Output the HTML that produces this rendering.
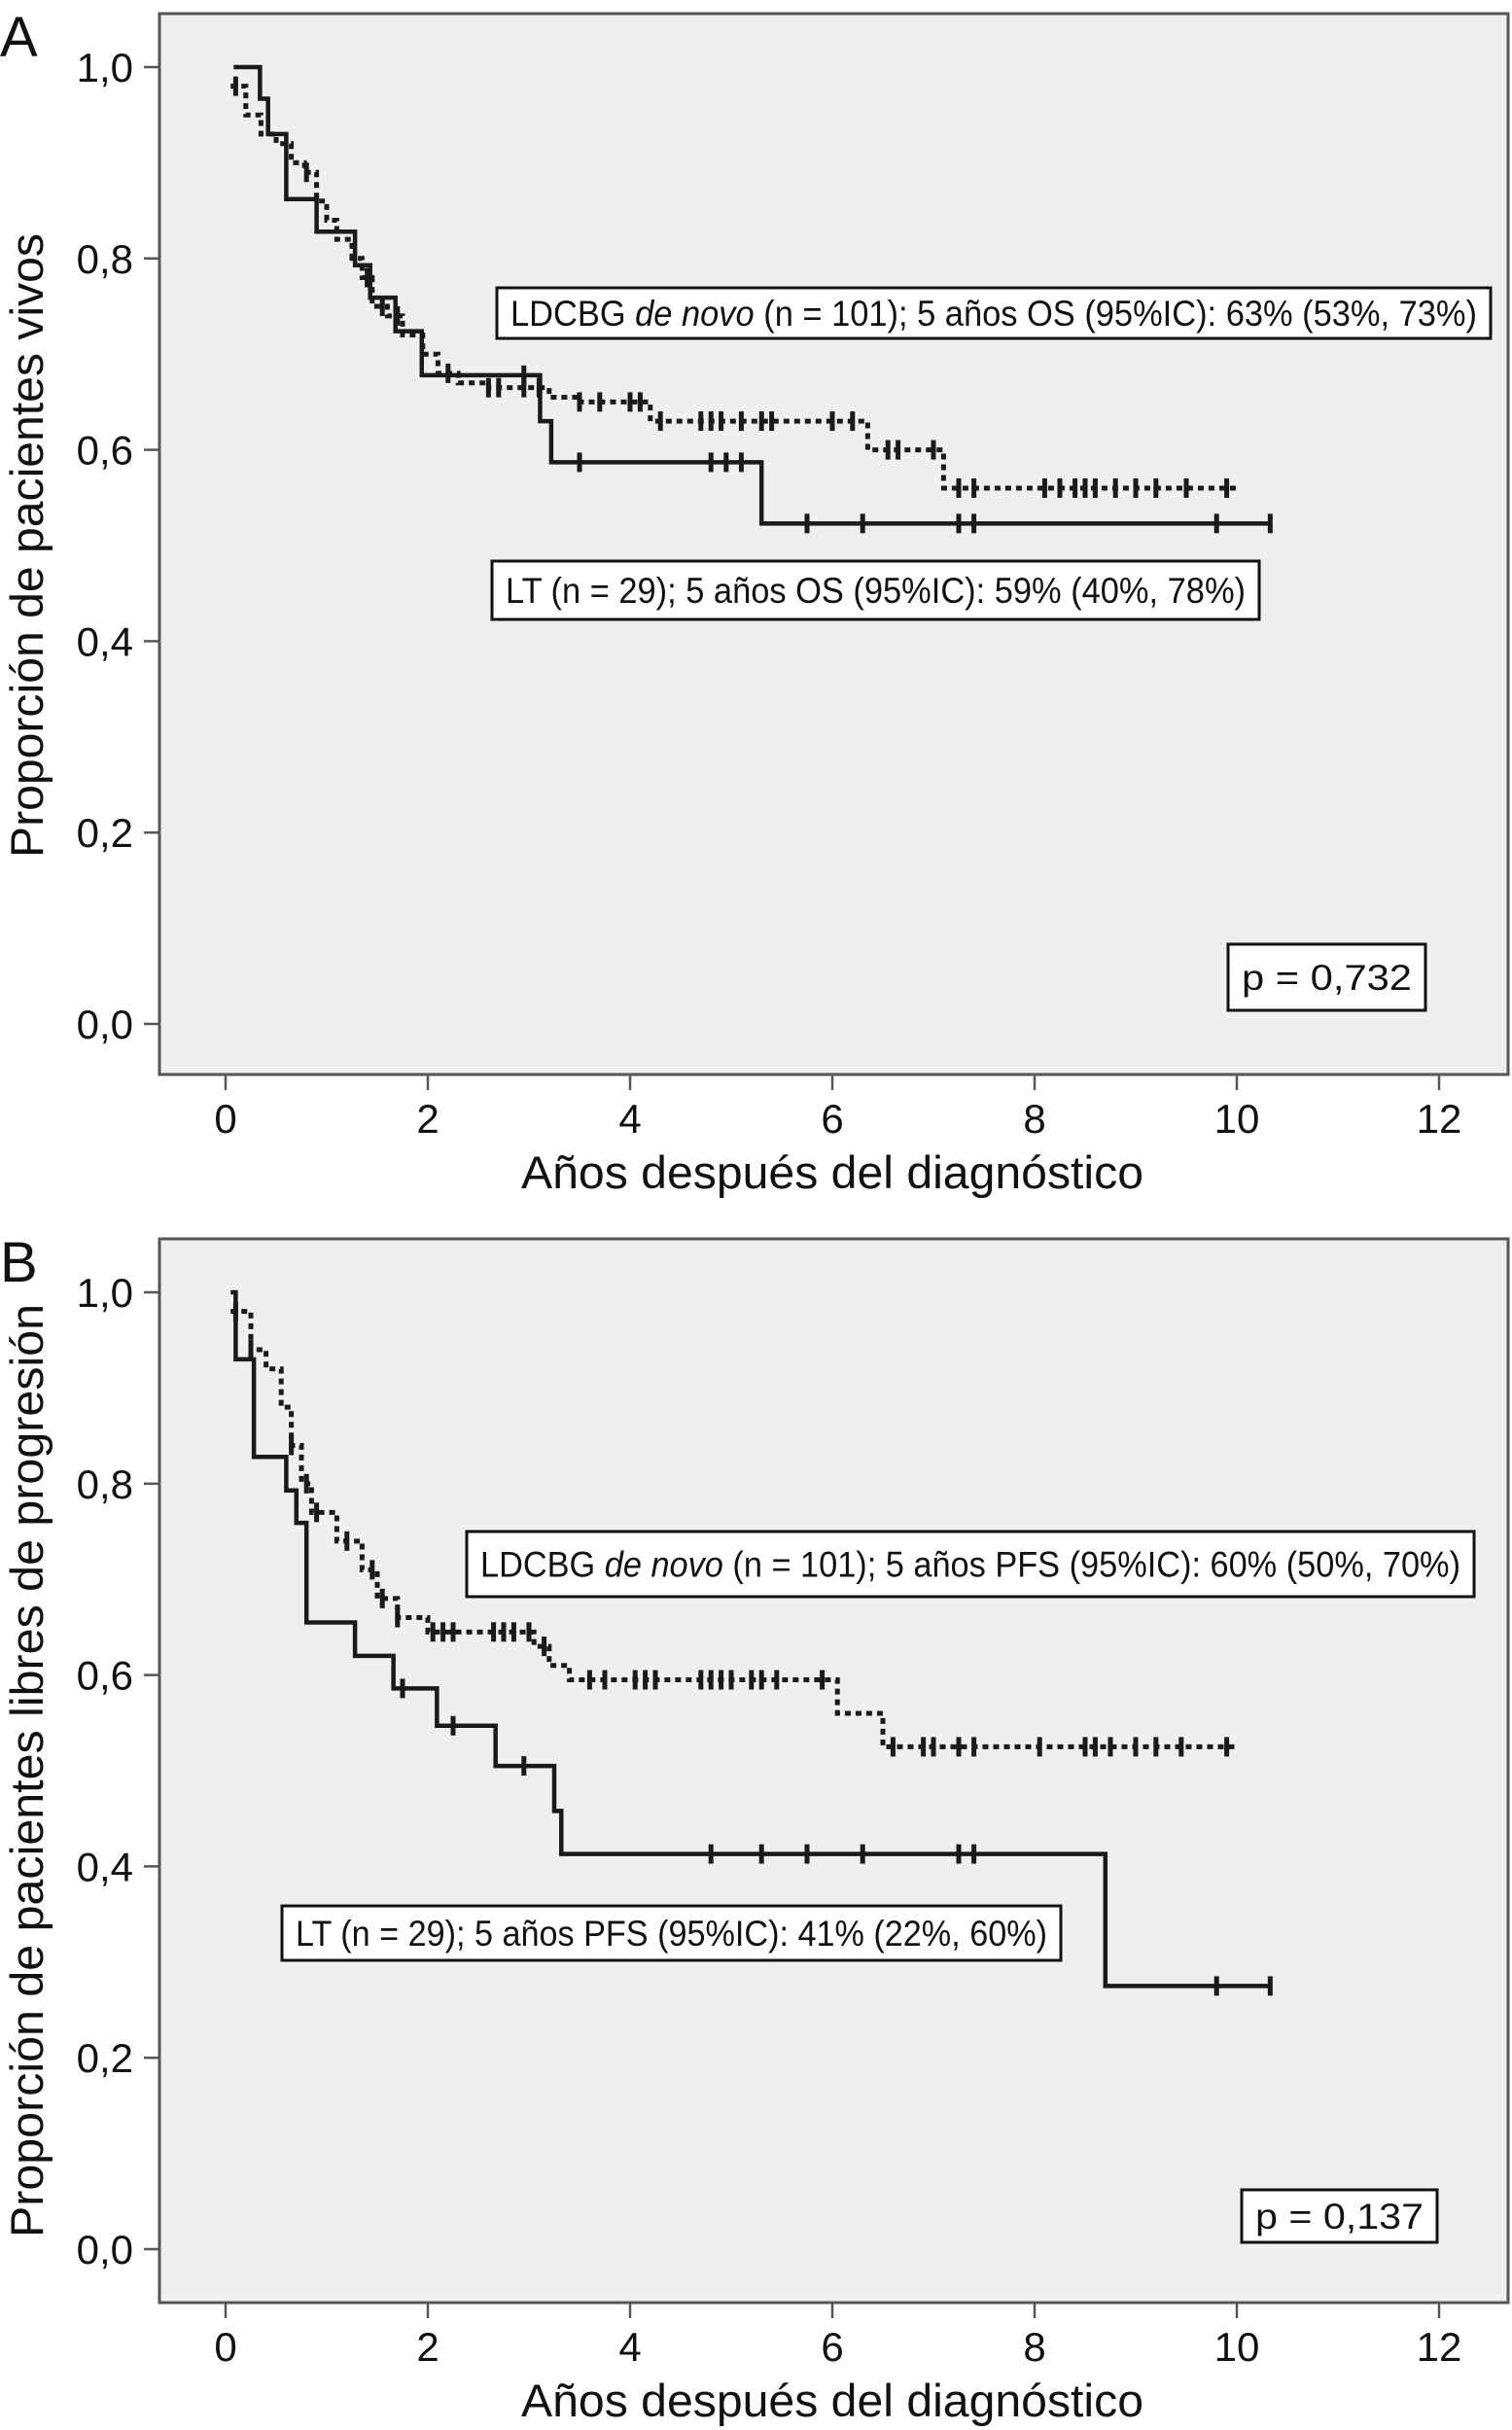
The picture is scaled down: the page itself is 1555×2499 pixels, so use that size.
<!DOCTYPE html>
<html><head><meta charset="utf-8"><style>
html,body{margin:0;padding:0;background:#fff}
svg{display:block;font-family:"Liberation Sans",Arial,sans-serif}
</style></head><body>
<svg id="fig" width="1555" height="2499" viewBox="0 0 1555 2499" xmlns="http://www.w3.org/2000/svg"></svg>
<script>
// ---- Panel A data (overall survival) ----
const xTicks = [0,2,4,6,8,10,12];
const yTicks = [0,0.2,0.4,0.6,0.8,1.0];
const yTickLabels = ["0,0","0,2","0,4","0,6","0,8","1,0"];
const aLtStart = [0.08, 1.0];
const aLtTimes = [0.34,0.42,0.6,0.9,1.28,1.43,1.68,1.94,3.11,3.22,5.3];
const aLtSurv  = [0.967,0.93,0.862,0.828,0.793,0.759,0.724,0.678,0.63,0.587,0.523];
const aLtEnd = 10.33;
const aLtCens = [2.95,3.5,4.8,4.95,5.1,5.75,6.3,7.25,7.4,9.8,10.33];
const aDnStart = [0.05, 0.98];
const aDnTimes = [0.2,0.35,0.5,0.65,0.78,0.9,1.0,1.1,1.25,1.35,1.45,1.6,1.75,1.95,2.1,2.3,2.6,3.2,3.5,4.2,6.35,7.1];
const aDnSurv  = [0.95,0.93,0.92,0.9,0.89,0.86,0.84,0.82,0.8,0.78,0.75,0.74,0.72,0.7,0.68,0.67,0.665,0.655,0.65,0.63,0.6,0.56];
const aDnEnd = 10.0;
const aDnCens = [0.1,0.8,1.4,1.55,1.7,2.2,2.6,2.7,2.95,3.1,3.5,3.7,4.0,4.1,4.3,4.7,4.8,4.9,5.1,5.3,5.4,6.0,6.2,6.55,6.65,7.0,7.25,7.4,8.1,8.25,8.4,8.5,8.6,8.8,9.0,9.2,9.5,9.9];
// ---- Panel B data (progression-free survival) ----
const bLtStart = [0.05, 1.0];
const bLtTimes = [0.1,0.28,0.6,0.7,0.8,1.28,1.66,2.09,2.67,3.25,3.32,8.7];
const bLtSurv  = [0.93,0.828,0.793,0.759,0.655,0.62,0.586,0.547,0.505,0.458,0.413,0.275];
const bLtEnd = 10.33;
const bLtCens = [1.75,2.25,2.95,4.8,5.3,5.75,6.3,7.25,7.4,9.8,10.33];
const bDnStart = [0.05, 0.98];
const bDnTimes = [0.25,0.4,0.55,0.65,0.75,0.85,1.1,1.35,1.5,1.7,2.0,3.05,3.2,3.4,6.05,6.5];
const bDnSurv  = [0.94,0.92,0.88,0.84,0.8,0.77,0.74,0.71,0.68,0.66,0.645,0.63,0.61,0.595,0.56,0.525];
const bDnEnd = 10.0;
const bDnCens = [0.1,0.25,0.65,0.8,0.9,1.2,1.45,1.55,1.7,2.05,2.15,2.25,2.65,2.75,2.85,3.0,3.15,3.6,3.75,4.05,4.15,4.25,4.7,4.8,4.9,5.0,5.2,5.3,5.45,5.9,6.6,6.9,7.0,7.25,7.4,8.05,8.5,8.6,8.75,9.0,9.2,9.45,9.9];

const NS="http://www.w3.org/2000/svg";
const svg=document.getElementById('fig');
function mk(tag,attrs,parent){const e=document.createElementNS(NS,tag);for(const k in attrs)e.setAttribute(k,attrs[k]);(parent||svg).appendChild(e);return e;}
function txt(parent,x,y,s,size,anchor,extra){const t=mk('text',Object.assign({x:x,y:y,'font-size':size,'text-anchor':anchor||'start',fill:'#111'},extra||{}),parent);t.textContent=s;return t;}

function stepVal(start,times,surv,t){let v=start[1];for(let i=0;i<times.length;i++){if(times[i]<=t+1e-9)v=surv[i];}return v;}

function panel(o){
  const g=mk('g',{});
  
  
  const X=v=>232+(1480-232)*v/12;
  const Y=v=>o.y0+(o.y1-o.y0)*v;
  const box=mk('rect',{x:164,y:o.top,width:1387,height:o.bottom-o.top,fill:'#efefef',stroke:'#555','stroke-width':3},g);
  
  const lab=txt(g,0,o.top+44,o.letter,58,'start');
  
  yTicks.forEach((v,i)=>{
    mk('line',{x1:148,x2:164,y1:Y(v),y2:Y(v),stroke:'#555','stroke-width':2.5},g);
    const t=txt(g,137,Y(v)+15,yTickLabels[i],42,'end');
    
  });
  xTicks.forEach(v=>{
    mk('line',{x1:X(v),x2:X(v),y1:o.bottom,y2:o.bottom+16,stroke:'#555','stroke-width':2.5},g);
    const t=txt(g,X(v),o.bottom+60,String(v),42,'middle');
    
  });
  const xt=txt(g,856,o.bottom+117,'Años después del diagnóstico',47,'middle',{textLength:640,lengthAdjust:'spacingAndGlyphs'});
  
  const yc=(o.y0+o.y1)/2;
  const yt=txt(g,0,0,o.ytitle,47,'middle',{transform:`translate(44,${yc}) rotate(-90)`,textLength:o.ytLen,lengthAdjust:'spacingAndGlyphs'});
  
  function series(start,times,surv,end,cens,dashed,nm){
    let d=`M${X(start[0])},${Y(start[1])}`;
    times.forEach((t,i)=>{d+=` H${X(t)} V${Y(surv[i])}`;});
    d+=` H${X(end)}`;
    const p=mk('path',{d:d,fill:'none',stroke:'#1a1a1a','stroke-width':dashed?5:4.5,'stroke-dasharray':dashed?'6,5':'none'},g);
    
    cens.forEach(c=>{const yy=Y(stepVal(start,times,surv,c));
      const m=mk('line',{x1:X(c),x2:X(c),y1:yy-10,y2:yy+10,stroke:'#1a1a1a','stroke-width':5},g);
      });
  }
  series(o.dn[0],o.dn[1],o.dn[2],o.dn[3],o.dn[4],true,'de-novo');
  series(o.lt[0],o.lt[1],o.lt[2],o.lt[3],o.lt[4],false,'lt');
  o.boxes.forEach(b=>{
    const r=mk('rect',{x:b[0],y:b[1],width:b[2],height:b[3],fill:'#fff',stroke:'#111','stroke-width':3},g);
    
    const t=mk('text',{x:b[0]+14,y:b[1]+b[3]/2+13,'font-size':37,fill:'#111',textLength:b[2]-28,lengthAdjust:'spacingAndGlyphs'},g);
    t.innerHTML=b[4];
  });
}

panel({name:'panel-a-overall-survival',letter:'A',top:14,bottom:1105,y0:1053,y1:69,
  ytitle:'Proporción de pacientes vivos',ytLen:642,
  lt:[aLtStart,aLtTimes,aLtSurv,aLtEnd,aLtCens],dn:[aDnStart,aDnTimes,aDnSurv,aDnEnd,aDnCens],
  boxes:[[511,296,1022,52,'LDCBG <tspan font-style="italic">de novo</tspan> (n = 101); 5 años OS (95%IC): 63% (53%, 73%)','legend-de-novo'],
         [506,577,789,60,'LT (n = 29); 5 años OS (95%IC): 59% (40%, 78%)','legend-lt'],
         [1263,971,203,68,'p = 0,732','p-value']]});
panel({name:'panel-b-progression-free',letter:'B',top:1274,bottom:2368,y0:2313,y1:1329,
  ytitle:'Proporción de pacientes libres de progresión',ytLen:960,
  lt:[bLtStart,bLtTimes,bLtSurv,bLtEnd,bLtCens],dn:[bDnStart,bDnTimes,bDnSurv,bDnEnd,bDnCens],
  boxes:[[480,1575,1036,67,'LDCBG <tspan font-style="italic">de novo</tspan> (n = 101); 5 años PFS (95%IC): 60% (50%, 70%)','legend-de-novo'],
         [290,1960,801,56,'LT (n = 29); 5 años PFS (95%IC): 41% (22%, 60%)','legend-lt'],
         [1277,2252,201,54,'p = 0,137','p-value']]});
</script>
</body></html>
